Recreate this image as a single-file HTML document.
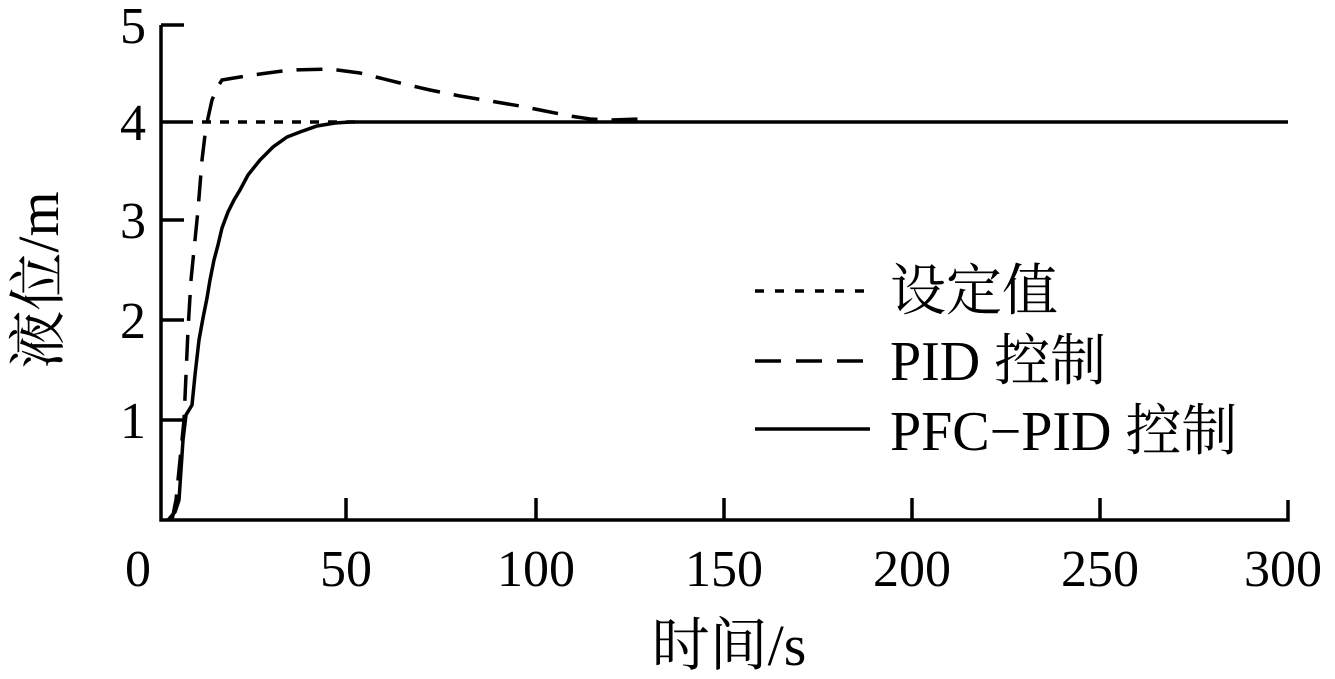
<!DOCTYPE html>
<html><head><meta charset="utf-8"><style>
html,body{margin:0;padding:0;background:#fff;}
svg{display:block;}
text{font-family:"Liberation Serif","Noto Serif CJK SC","Noto Sans CJK SC",serif;fill:#000;}
</style></head><body>
<svg width="1335" height="679" viewBox="0 0 1335 679" xmlns="http://www.w3.org/2000/svg">
<g stroke="#000" stroke-width="3.5" fill="none">
<polyline points="161,25 161,520 1288,520 1288,500"/>
<line x1="161" y1="25" x2="184" y2="25"/>
<line x1="161" y1="122" x2="184" y2="122"/>
<line x1="161" y1="220" x2="184" y2="220"/>
<line x1="161" y1="320" x2="184" y2="320"/>
<line x1="161" y1="420" x2="184" y2="420"/>
<line x1="346" y1="520" x2="346" y2="498"/>
<line x1="536" y1="520" x2="536" y2="498"/>
<line x1="724" y1="520" x2="724" y2="498"/>
<line x1="912" y1="520" x2="912" y2="498"/>
<line x1="1100" y1="520" x2="1100" y2="498"/>
<line x1="184" y1="122" x2="355" y2="122" stroke-dasharray="9,9"/>
<polyline stroke-dasharray="26,14" points="172,520 176,500 180,460 184,420 188,330 191,280 195,240 198,210 202,160 205,135 208,118 212,100 217,88 222,80 240,77 260,74 290,70 330,69 360,73 380,78 400,83 430,90 460,96 490,101 520,106 545,111 570,116 590,119 610,120 640,119"/>
<polyline points="168,520 175,512 179,500 181,470 183,440 186,415 192,405 195,375 199,340 203,318 207,298 210,280 214,260 218,245 222,228 228,212 234,200 240,190 248,175 260,160 273,147 287,137 300,132 317,126 335,123 350,122 1288,122"/>
<line x1="755" y1="291" x2="870" y2="291" stroke-dasharray="9,11"/>
<line x1="755" y1="361" x2="870" y2="361" stroke-dasharray="26,15"/>
<line x1="755" y1="429" x2="870" y2="429"/>
</g>
<g font-size="56">
<text x="890" y="310">设定值</text>
<text x="890" y="380">PID 控制</text>
<text x="890" y="450">PFC−PID 控制</text>
</g>
<g font-size="52" text-anchor="end">
<text x="146" y="43">5</text>
<text x="146" y="140">4</text>
<text x="146" y="238">3</text>
<text x="146" y="338">2</text>
<text x="146" y="438">1</text>
</g>
<g font-size="52" text-anchor="middle">
<text x="138" y="586">0</text>
<text x="346" y="586">50</text>
<text x="536" y="586">100</text>
<text x="724" y="586">150</text>
<text x="912" y="586">200</text>
<text x="1100" y="586">250</text>
<text x="1283" y="586">300</text>
<text x="729" y="665" font-size="58">时间/s</text>
<text transform="translate(58,280) rotate(-90)" font-size="58">液位/m</text>
</g>
</svg>
</body></html>
